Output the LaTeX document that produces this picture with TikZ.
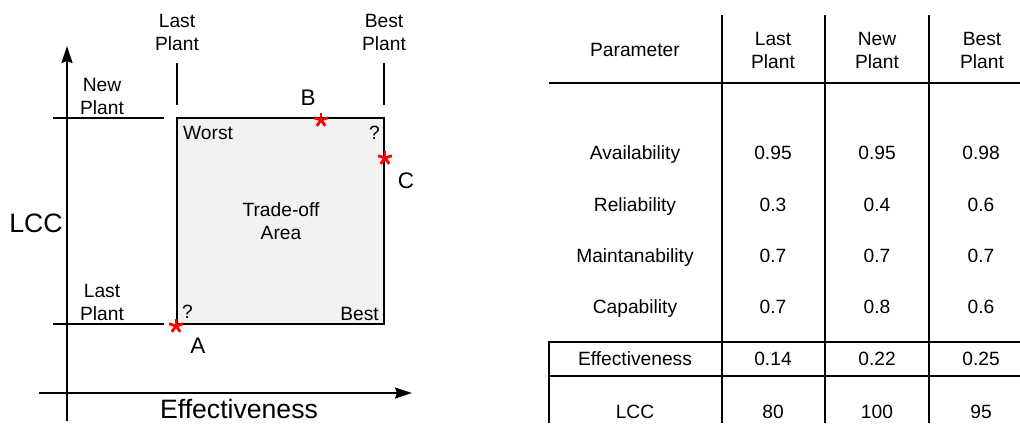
\documentclass[tikz,border=0pt]{standalone}
\usepackage{fontspec}
\setmainfont{Liberation Sans}
\usetikzlibrary{arrows.meta}
\definecolor{areagray}{RGB}{242,242,242}
\tikzset{
  ln/.style={line width=2pt},
  axis/.style={line width=2pt,-{Stealth[length=17pt,width=11pt,inset=2pt]}},
  lbl/.style={font=\fontsize{19.2}{23}\selectfont,inner sep=0pt,align=center},
  big/.style={font=\fontsize{26.6}{30}\selectfont,inner sep=0pt},
  ptlbl/.style={font=\fontsize{22.5}{26}\selectfont,inner sep=0pt},
  cell/.style={lbl,anchor=base},
  ast/.pic={\foreach \a in {90,18,162,-54,234}
    \draw[red,line width=2.8pt] (0,0) -- (\a:7.2pt);}
}
\begin{document}
\begin{tikzpicture}[x=1pt,y=-1pt]
\useasboundingbox (0,0) rectangle (1020,423);

% ---------- trade-off chart ----------
\coordinate (ybot) at (67,421);
\coordinate (ytop) at (67,46);
\coordinate (xleft) at (39,393);
\coordinate (xright) at (412,393);
\draw[axis] (ybot) -- (ytop);
\draw[axis] (xleft) -- (xright);

\node[big,anchor=base] (lcc) at (36,232) {LCC};
\node[big,anchor=base] (eff) at (239,418) {Effectiveness};

% trade-off area
\coordinate (worst) at (177,118);
\coordinate (best) at (384,324);
\draw[ln,fill=areagray] (worst) rectangle (best);

% reference levels
\coordinate (newL) at (53,118);  \coordinate (newR) at (164,118);
\coordinate (lastL) at (53,324); \coordinate (lastR) at (164,324);
\draw[ln] (newL) -- (newR);
\draw[ln] (lastL) -- (lastR);
\coordinate (t1a) at (177,63); \coordinate (t1b) at (177,105);
\coordinate (t2a) at (384,63); \coordinate (t2b) at (384,105);
\draw[ln] (t1a) -- (t1b);
\draw[ln] (t2a) -- (t2b);

\node[lbl,anchor=north] (toplast) at (177,14) {Last\\Plant};
\node[lbl,anchor=north] (topbest) at (384,14) {Best\\Plant};
\node[lbl,anchor=north] (sidenew) at (102,78) {New\\Plant};
\node[lbl,anchor=north] (sidelast) at (102,284) {Last\\Plant};

\node[lbl,anchor=base west] (wlbl) at (183,139) {Worst};
\node[lbl,anchor=base east] (q1) at (380,139) {?};
\node[lbl,anchor=base west] (q2) at (182,318) {?};
\node[lbl,anchor=base east] (blbl) at (379,320) {Best};
\node[lbl,anchor=north] (tarea) at (281,202) {Trade-off\\Area};

% candidate designs
\coordinate (sa) at (176,326);
\coordinate (sb) at (321,120);
\coordinate (sc) at (385,158);
\pic at (sa) {ast};
\pic at (sb) {ast};
\pic at (sc) {ast};
\node[ptlbl,anchor=base] (la) at (198,353) {A};
\node[ptlbl,anchor=base] (lb) at (308,105) {B};
\node[ptlbl,anchor=base] (lc) at (406,188) {C};

% ---------- parameter table ----------
\foreach \x/\n in {722/a,825/b,929/c}{
  \coordinate (v\n t) at (\x,15);
  \coordinate (v\n b) at (\x,423);
  \draw[ln] (v\n t) -- (v\n b);
}
\coordinate (hl) at (549,83);  \coordinate (hr) at (1020,83);
\draw[ln] (hl) -- (hr);
\coordinate (el) at (549,342); \coordinate (er) at (1020,342);
\coordinate (ml) at (549,376); \coordinate (mr) at (1020,376);
\coordinate (bl) at (549,423);
\draw[ln] (er) -- (el) -- (bl);
\draw[ln] (ml) -- (mr);

\node[cell] (hpar) at (635,56.5) {Parameter};
\node[lbl,anchor=north] (hlast) at (773,32) {Last\\Plant};
\node[lbl,anchor=north] (hnew) at (877,32) {New\\Plant};
\node[lbl,anchor=north] (hbest) at (982,32) {Best\\Plant};

\foreach \y/\p/\u/\v/\w [count=\i] in {
  159/Availability/0.95/0.95/0.98,
  211/Reliability/0.3/0.4/0.6,
  262/Maintanability/0.7/0.7/0.7,
  313/Capability/0.7/0.8/0.6,
  365.5/Effectiveness/0.14/0.22/0.25,
  418/LCC/80/100/95}{
  \node[cell] (p\i) at (635,\y) {\p};
  \node[cell] (u\i) at (773,\y) {\u};
  \node[cell] (v\i) at (877,\y) {\v};
  \node[cell] (w\i) at (981,\y) {\w};
}
\end{tikzpicture}
\end{document}
